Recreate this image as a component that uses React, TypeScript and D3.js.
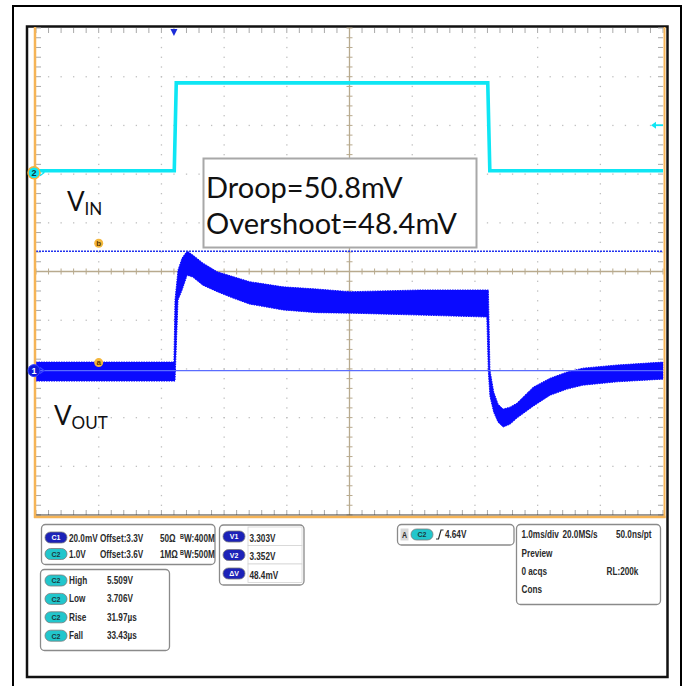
import React from 'react';
import * as d3 from 'd3';

// ---------- data ----------
// C2 (VIN) trace, 1.0 V/div
const vinTime = [0, 2.205, 2.237, 7.205, 7.238, 10];
const vinVolt = [3.706, 3.706, 5.509, 5.509, 3.706, 3.706];

// C1 (VOUT) trace, 20 mV/div, noisy band: upper / lower envelope
const voutTime = [0, 2.2, 2.217, 2.265, 2.33, 2.41, 2.5, 2.66, 2.89, 3.14, 3.41, 3.94, 4.48, 5.01, 6.12, 7.19, 7.215, 7.24, 7.3, 7.37, 7.45, 7.56, 7.67, 7.93, 8.2, 8.47, 8.72, 9.27, 10];
const voutHigh = [3.3065, 3.3065, 3.332, 3.3443, 3.3492, 3.3521, 3.3505, 3.3472, 3.3436, 3.3416, 3.3395, 3.3374, 3.3365, 3.3354, 3.3361, 3.3361, 3.3361, 3.3032, 3.2942, 3.2892, 3.2872, 3.288, 3.2896, 3.2962, 3.2999, 3.3024, 3.304, 3.3053, 3.3065];
const voutLow = [3.2987, 3.2987, 3.2987, 3.332, 3.3361, 3.3422, 3.3414, 3.3381, 3.3354, 3.3328, 3.3303, 3.3279, 3.3268, 3.3266, 3.3258, 3.325, 3.3024, 3.2925, 3.2859, 3.2818, 3.2798, 3.281, 3.2835, 3.2884, 3.2929, 3.2954, 3.297, 3.2984, 3.2995];

const cursorValues = [3.303, 3.352];
const cursorLabels = ['a', 'b'];
const triggerTime = 2.2;
const triggerLevel = 4.64;

const noteLines = ['Droop=50.8mV', 'Overshoot=48.4mV'];

const chanRows = [
  { ch: 'C1', scale: '20.0mV', offset: 'Offset:3.3V', imp: '50\u03A9', bw: '400M' },
  { ch: 'C2', scale: '1.0V', offset: 'Offset:3.6V', imp: '1M\u03A9', bw: '500M' },
];
const measLabels = ['High', 'Low', 'Rise', 'Fall'];
const measValues = ['5.509V', '3.706V', '31.97\u00B5s', '33.43\u00B5s'];
const cursorTags = ['V1', 'V2', '\u0394V'];
const cursorReadouts = ['3.303V', '3.352V', '48.4mV'];
const trigText = '4.64V';
const timebaseRow1 = ['1.0ms/div', '20.0MS/s', '50.0ns/pt'];
const timebaseRows = ['Preview', '0 acqs', 'Cons'];
const recLen = 'RL:200k';

// ---------- layout ----------
const GL = 36, GR = 663, GT = 28, GB = 515;
const DIVS = 10;
const divW = (GR - GL) / DIVS;
const divH = (GB - GT) / DIVS;
const GC = (GT + GB) / 2;

const C2_CENTER = 1.636; // volts at screen centre for C2
const C1_CENTER = 3.3437; // volts at screen centre for C1

const x = d3.scaleLinear().domain([0, 10]).range([GL, GR]);
const yIn = d3.scaleLinear().domain([C2_CENTER - 5 * 1.0, C2_CENTER + 5 * 1.0]).range([GB, GT]);
const yOut = d3.scaleLinear().domain([C1_CENTER - 5 * 0.02, C1_CENTER + 5 * 0.02]).range([GB, GT]);

const CYAN = '#0ee6f4';
const BLUE = '#0a0aff';
const ORANGE = '#f5b457';
const TAN = '#b8aa8e';
const TICK = '#a9a9a9';
const DOT = '#bfbfbf';
const SMALLFONT = '"Liberation Sans", Arial, sans-serif';
const BIGFONT = 'Lato, "Open Sans", sans-serif';

function ST({ x0, y0, children, size = 10.5, anchor = 'start' }: { x0: number; y0: number; children: React.ReactNode; size?: number; anchor?: string }) {
  return (
    <text transform={`translate(${x0},${y0}) scale(0.78,1)`} fontSize={size} textAnchor={anchor as any}>{children}</text>
  );
}

function Pill({ x0, y0, label, kind }: { x0: number; y0: number; label: string; kind: 'blue' | 'cyan' }) {
  const fill = kind === 'blue' ? '#1c22b8' : '#22c6cc';
  const txt = kind === 'blue' ? '#ffffff' : '#1a3a40';
  return (
    <g>
      <rect x={x0} y={y0} width={22} height={11} rx={5.5} fill={fill} stroke="#7a7a7a" strokeWidth={0.8} />
      <text x={x0 + 11} y={y0 + 8.3} textAnchor="middle" fontSize={7} fontWeight="bold" fill={txt} fontFamily={SMALLFONT}>{label}</text>
    </g>
  );
}

export default function App() {
  const minorX = d3.range(0, DIVS * 5 + 1).map(i => GL + (i * divW) / 5);
  const minorY = d3.range(0, DIVS * 5 + 1).map(i => GT + (i * divH) / 5);

  const dots: JSX.Element[] = [];
  for (let i = 1; i < DIVS; i++) {
    if (i === 5) continue;
    const vx = GL + i * divW;
    minorY.slice(1, -1).forEach((yy, k) => dots.push(<rect key={`dv${i}-${k}`} x={vx - 0.6} y={yy - 0.6} width={1.3} height={1.3} fill={DOT} />));
    const hy = GT + i * divH;
    minorX.slice(1, -1).forEach((xx, k) => dots.push(<rect key={`dh${i}-${k}`} x={xx - 0.6} y={hy - 0.6} width={1.3} height={1.3} fill={DOT} />));
  }

  const vinLine = d3.line<number>().x((_, i) => x(vinTime[i])).y((_, i) => yIn(vinVolt[i]));
  const voutArea = d3.area<number>()
    .x((_, i) => x(voutTime[i]))
    .y0((_, i) => yOut(voutLow[i]))
    .y1((_, i) => yOut(voutHigh[i]));

  const xT = x(triggerTime);
  const yTrig = yIn(triggerLevel);
  const yC2 = yIn(vinVolt[0]);
  const yC1 = yOut(cursorValues[0]);

  return (
    <svg width={692} height={686} style={{ position: 'absolute', left: 0, top: 0, background: '#fff' }}>
      {/* outer frame */}
      <rect x={13} y={6} width={668} height={690} fill="none" stroke="#000" strokeWidth={2} />
      {/* scope area */}
      <rect x={27} y={26.5} width={640.5} height={650.5} fill="#fff" stroke="#111" strokeWidth={2.5} />

      {/* grid dots */}
      {dots}
      {/* edge ticks */}
      {minorX.map((xx, i) => (
        <g key={`tx${i}`}>
          <line x1={xx} x2={xx} y1={GT} y2={GT + 5} stroke={TICK} strokeWidth={1} />
          <line x1={xx} x2={xx} y1={GB} y2={GB - 5} stroke={TICK} strokeWidth={1} />
          <line x1={xx} x2={xx} y1={GC - 3} y2={GC + 3} stroke={TAN} strokeWidth={1} />
        </g>
      ))}
      {minorY.map((yy, i) => (
        <g key={`ty${i}`}>
          <line x1={GL} x2={GL + 5} y1={yy} y2={yy} stroke={TICK} strokeWidth={1} />
          <line x1={GR} x2={GR - 5} y1={yy} y2={yy} stroke={TICK} strokeWidth={1} />
          <line x1={(GL + GR) / 2 - 3} x2={(GL + GR) / 2 + 3} y1={yy} y2={yy} stroke={TAN} strokeWidth={1} />
        </g>
      ))}
      {/* centre crosshair */}
      <line x1={GL} x2={GR} y1={GC} y2={GC} stroke={TAN} strokeWidth={1.3} />
      <line x1={(GL + GR) / 2} x2={(GL + GR) / 2} y1={GT} y2={GB} stroke={TAN} strokeWidth={1.3} />

      {/* C2 trace */}
      <path d={vinLine(vinTime) || ''} fill="none" stroke={CYAN} strokeWidth={3.6} strokeLinejoin="miter" />
      {/* C1 trace band */}
      <path d={voutArea(voutTime) || ''} fill={BLUE} stroke={BLUE} strokeWidth={1} strokeDasharray="1.5,1" />

      {/* cursors */}
      {cursorValues.map((v, i) => (
        <g key={`cur${i}`}>
          <line x1={GL} x2={GR} y1={yOut(v)} y2={yOut(v)} stroke={i === 0 ? '#5a6cff' : '#2233ee'} strokeWidth={i === 0 ? 1.2 : 1.5} strokeDasharray={i === 1 ? '2,1' : undefined} />
          <circle cx={GL + divW} cy={yOut(v) - 8} r={4.5} fill="#f4b73c" />
          <text x={GL + divW} y={yOut(v) - 5.3} textAnchor="middle" fontSize={8} fontWeight="bold" fill="#5a3a00" fontFamily={SMALLFONT}>{cursorLabels[i]}</text>
        </g>
      ))}

      {/* trigger markers */}
      <path d={`M${xT - 3.5},${GT + 1} L${xT + 3.5},${GT + 1} L${xT},${GT + 8} Z`} fill="#1b2cd8" />
      <g>
        <line x1={GR - 9} x2={GR} y1={yTrig} y2={yTrig} stroke={CYAN} strokeWidth={1.8} />
        <path d={`M${GR - 12},${yTrig} L${GR - 7},${yTrig - 3.5} L${GR - 7},${yTrig + 3.5} Z`} fill={CYAN} />
      </g>

      {/* orange border around grid */}
      <line x1={34.5} x2={665} y1={GB} y2={GB} stroke="#333" strokeWidth={1} />
      <line x1={35} x2={35} y1={27} y2={518} stroke={ORANGE} strokeWidth={2.5} />
      <line x1={34} x2={665.5} y1={517} y2={517} stroke={ORANGE} strokeWidth={2.5} />
      <line x1={664.5} x2={664.5} y1={27} y2={518} stroke={ORANGE} strokeWidth={2} />

      {/* channel markers */}
      <g>
        <circle cx={34} cy={yC2 + 2} r={6} fill={CYAN} stroke="#f2b23f" strokeWidth={1.5} />
        <text x={34} y={yC2 + 5.2} textAnchor="middle" fontSize={9} fontWeight="bold" fill="#0c3640" fontFamily={SMALLFONT}>2</text>
        <path d={`M40,${yC2 - 1} L44,${yC2 + 2} L40,${yC2 + 5}`} fill="none" stroke={CYAN} strokeWidth={1.2} />
      </g>
      <g>
        <circle cx={34} cy={yC1} r={6} fill="#1018d8" stroke="#3a46ff" strokeWidth={1} />
        <text x={34} y={yC1 + 3.2} textAnchor="middle" fontSize={9} fontWeight="bold" fill="#fff" fontFamily={SMALLFONT}>1</text>
        <path d={`M40,${yC1 - 3} L44,${yC1} L40,${yC1 + 3}`} fill="none" stroke="#3a46ff" strokeWidth={1.2} />
      </g>

      {/* annotation box */}
      <rect x={203.5} y={158.5} width={273} height={89} fill="#fff" stroke="#a8a8a8" strokeWidth={2} />
      {noteLines.map((t, i) => (
        <text key={t} x={206} y={198 + i * 36} fontSize={29} fill="#111" fontFamily={BIGFONT}>{t}</text>
      ))}

      {/* signal labels */}
      <text x={67} y={211} fontSize={26} fill="#111" fontFamily={BIGFONT}>V<tspan fontSize={17} dy={4}>IN</tspan></text>
      <text x={54} y={425} fontSize={26} fill="#111" fontFamily={BIGFONT}>V<tspan fontSize={17} dy={4}>OUT</tspan></text>

      {/* ---- info panel ---- */}
      <g fontFamily={SMALLFONT} fontWeight="bold" fill="#2a2a2a">
        {/* channel settings */}
        <rect x={41.5} y={524.5} width={173.5} height={40} rx={4} fill="#fff" stroke="#8a8a8a" strokeWidth={1.3} />
        {chanRows.map((r, i) => (
          <g key={r.ch}>
            <Pill x0={45} y0={532 + i * 16.5} label={r.ch} kind={i === 0 ? 'blue' : 'cyan'} />
            <ST x0={69} y0={541.5 + i * 16.5}>{r.scale}</ST>
            <ST x0={100} y0={541.5 + i * 16.5}>{r.offset}</ST>
            <ST x0={160} y0={541.5 + i * 16.5}>{r.imp}</ST>
            <ST x0={180} y0={538.5 + i * 16.5} size={7}>B</ST>
            <ST x0={184} y0={541.5 + i * 16.5}>{'W:' + r.bw}</ST>
          </g>
        ))}

        {/* measurements */}
        <rect x={40.5} y={569.5} width={129} height={81} rx={4} fill="#fff" stroke="#8a8a8a" strokeWidth={1.3} />
        {measLabels.map((m, i) => (
          <g key={m}>
            <Pill x0={45} y0={575 + i * 18.4} label="C2" kind="cyan" />
            <ST x0={69} y0={584 + i * 18.4}>{m}</ST>
            <ST x0={107} y0={584 + i * 18.4}>{measValues[i]}</ST>
          </g>
        ))}

        {/* cursor readouts */}
        <rect x={219.5} y={525} width={84.5} height={60} rx={4} fill="#fff" stroke="#8a8a8a" strokeWidth={1.3} />
        {cursorTags.map((c, i) => (
          <g key={c}>
            <rect x={248} y={527 + i * 18.5} width={54} height={18.5} fill="#fff" stroke="#d4d4d4" strokeWidth={0.8} />
            <Pill x0={223} y0={531 + i * 18.5} label={c} kind="blue" />
            <ST x0={249.5} y0={541.5 + i * 18.5}>{cursorReadouts[i]}</ST>
          </g>
        ))}

        {/* trigger */}
        <rect x={397.5} y={524.5} width={116.5} height={20.5} rx={4} fill="#fff" stroke="#8a8a8a" strokeWidth={1.3} />
        <rect x={400.5} y={528.5} width={8} height={12} fill="#d9d9d9" />
        <ST x0={404.5} y0={537.5} size={9} anchor="middle">A</ST>
        <Pill x0={411} y0={529} label="C2" kind="cyan" />
        <path d="M436,539 L438.5,539 L441,530 L443.5,530" fill="none" stroke="#2a2a2a" strokeWidth={1.2} />
        <ST x0={445} y0={537.5}>{trigText}</ST>

        {/* timebase */}
        <rect x={516.5} y={524.5} width={144} height={80} rx={4} fill="#fff" stroke="#8a8a8a" strokeWidth={1.3} />
        <ST x0={521.5} y0={538}>{timebaseRow1[0]}</ST>
        <ST x0={562.5} y0={538}>{timebaseRow1[1]}</ST>
        <ST x0={616} y0={538}>{timebaseRow1[2]}</ST>
        {timebaseRows.map((t, i) => (
          <ST key={t} x0={521.5} y0={556.7 + i * 18.3}>{t}</ST>
        ))}
        <ST x0={606.5} y0={575}>{recLen}</ST>
      </g>
    </svg>
  );
}
